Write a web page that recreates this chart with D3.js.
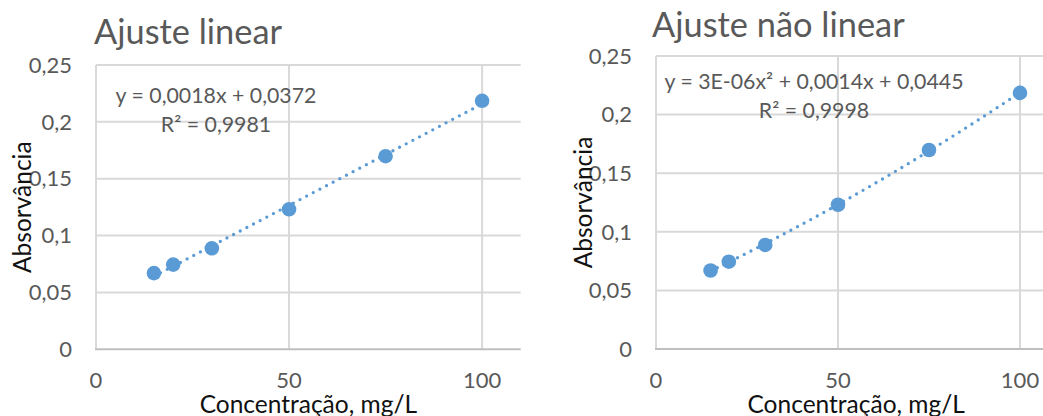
<!DOCTYPE html>
<html><head><meta charset="utf-8">
<script src="https://cdn.jsdelivr.net/npm/d3@7"></script>
<style>
body{margin:0;background:#fff}
svg{display:block}
text{font-family:Lato,"Open Sans",sans-serif}
</style>
</head><body>
<svg id="c" width="1043" height="416"></svg>
<script>
// ---- data ----
const concentrations = [15, 20, 30, 50, 75, 100];
const absorbances = [0.067, 0.0745, 0.0888, 0.1231, 0.1698, 0.2185];
const xTicks = [0, 50, 100];
const yTicks = [0, 0.05, 0.1, 0.15, 0.2, 0.25];
const xDomain = [0, 110];
const yDomain = [0, 0.25];
const titles = ["Ajuste linear", "Ajuste não linear"];
const equationLines = [["y = 0,0018x + 0,0372", "R² = 0,9981"],
                       ["y = 3E-06x² + 0,0014x + 0,0445", "R² = 0,9998"]];
const fitDegrees = [1, 2];
const xLabel = "Concentração, mg/L";
const yLabel = "Absorvância";

// ---- layout ----
const panels = [
  {left:96, right:520.7, top:65, bottom:349.3, titleX:94, titleY:44, yTickX:72, yLabelX:31, eqX:216, eqY:[102.7,131.7]},
  {left:656, right:1056.4, top:56, bottom:349, titleX:652, titleY:37, yTickX:632, yLabelX:592, eqX:814, eqY:[89.3,118.3]}
];
const BLUE = "#5B9BD5";
const GRID = "#D9D9D9";
const AXIS = "#BFBFBF";
const TXT = "#595959";

const locale = d3.formatLocale({decimal:",", thousands:".", grouping:[3], currency:["",""]});
const fmt = locale.format(".2~f");

// least squares polynomial fit
function polyfit(xs, ys, deg){
  const n = deg + 1;
  const A = Array.from({length:n}, () => new Array(n + 1).fill(0));
  xs.forEach((x, k) => {
    for (let i = 0; i < n; i++){
      for (let j = 0; j < n; j++) A[i][j] += Math.pow(x, i + j);
      A[i][n] += ys[k] * Math.pow(x, i);
    }
  });
  for (let i = 0; i < n; i++){
    let p = i;
    for (let r = i + 1; r < n; r++) if (Math.abs(A[r][i]) > Math.abs(A[p][i])) p = r;
    [A[i], A[p]] = [A[p], A[i]];
    for (let r = 0; r < n; r++){
      if (r === i) continue;
      const f = A[r][i] / A[i][i];
      for (let c = i; c <= n; c++) A[r][c] -= f * A[i][c];
    }
  }
  return A.map((row, i) => row[n] / row[i]);
}

const svg = d3.select("#c");
const points = concentrations.map((c, i) => ({x:c, y:absorbances[i]}));

panels.forEach((P, pi) => {
  const x = d3.scaleLinear().domain(xDomain).range([P.left, P.right]);
  const y = d3.scaleLinear().domain(yDomain).range([P.bottom, P.top]);
  const g = svg.append("g");

  // gridlines
  g.selectAll(".hg").data(yTicks.filter(v => v > 0)).join("line")
    .attr("x1", P.left).attr("x2", P.right)
    .attr("y1", d => y(d)).attr("y2", d => y(d))
    .attr("stroke", GRID).attr("stroke-width", 2);
  g.selectAll(".vg").data(xTicks).join("line")
    .attr("x1", d => x(d)).attr("x2", d => x(d))
    .attr("y1", P.top).attr("y2", P.bottom)
    .attr("stroke", GRID).attr("stroke-width", 2);
  // horizontal axis line
  g.append("line").attr("x1", P.left - 1).attr("x2", P.right)
    .attr("y1", y(0)).attr("y2", y(0))
    .attr("stroke", AXIS).attr("stroke-width", 2);

  // y tick labels
  g.selectAll(".yt").data(yTicks).join("text")
    .attr("x", P.yTickX).attr("y", d => y(d))
    .attr("dy", "0.35em").attr("text-anchor", "end")
    .attr("fill", TXT).attr("font-size", 22)
    .text(d => fmt(d));
  // x tick labels
  g.selectAll(".xt").data(xTicks).join("text")
    .attr("x", d => x(d)).attr("y", 388)
    .attr("text-anchor", "middle")
    .attr("fill", TXT).attr("font-size", 22)
    .text(d => fmt(d));

  // trendline
  const coef = polyfit(concentrations, absorbances, fitDegrees[pi]);
  const xmin = d3.min(concentrations), xmax = d3.max(concentrations);
  const samples = d3.range(0, 101).map(k => xmin + (xmax - xmin) * k / 100);
  const line = d3.line().x(d => x(d)).y(d => y(coef.reduce((s, c, i) => s + c * Math.pow(d, i), 0)));
  g.append("path").attr("d", line(samples))
    .attr("fill", "none").attr("stroke", BLUE)
    .attr("stroke-width", 3.3).attr("stroke-linecap", "round")
    .attr("stroke-dasharray", "0 7.5");

  // markers
  g.selectAll(".pt").data(points).join("circle")
    .attr("cx", d => x(d.x)).attr("cy", d => y(d.y)).attr("r", 7.3)
    .attr("fill", BLUE);

  // equation text
  g.selectAll(".eq").data(equationLines[pi]).join("text")
    .attr("x", P.eqX).attr("y", (d, i) => P.eqY[i])
    .attr("text-anchor", "middle")
    .attr("fill", TXT).attr("font-size", 21.3)
    .text(d => d);

  // title
  g.append("text").attr("x", P.titleX).attr("y", P.titleY)
    .attr("fill", TXT).attr("font-size", 34.4)
    .text(titles[pi]);

  // axis titles
  g.append("text").attr("x", (P.left + P.right) / 2).attr("y", 413)
    .attr("text-anchor", "middle").attr("fill", "#111").attr("font-size", 24.5)
    .text(xLabel);
  g.append("text")
    .attr("transform", `translate(${P.yLabelX},${(P.top + P.bottom) / 2}) rotate(-90)`)
    .attr("text-anchor", "middle").attr("fill", "#111").attr("font-size", 24.5)
    .text(yLabel);
});
</script>
</body></html>
